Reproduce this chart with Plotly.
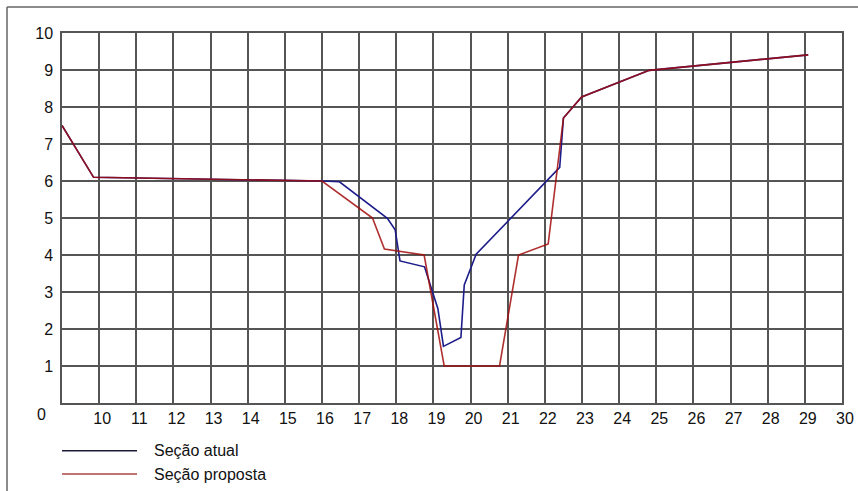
import plotly.graph_objects as go

# Seção atual (current section)
atual_x = [9.0, 9.85, 16.0, 16.47, 17.76, 17.97, 18.1, 18.76, 19.12, 19.27, 19.74, 19.83, 20.15, 22.4, 22.5, 22.99, 24.81, 29.09]
atual_y = [7.5, 6.1, 6.0, 5.98, 4.99, 4.68, 3.84, 3.68, 2.55, 1.53, 1.77, 3.19, 4.02, 6.37, 7.7, 8.27, 8.99, 9.41]

# Seção proposta (proposed section)
prop_x = [9.0, 9.85, 16.0, 17.36, 17.68, 18.75, 19.29, 20.78, 21.29, 22.09, 22.5, 22.99, 24.81, 29.09]
prop_y = [7.5, 6.1, 6.0, 5.0, 4.16, 4.0, 1.0, 1.0, 4.0, 4.3, 7.7, 8.27, 8.99, 9.41]

x_ticks = list(range(9, 31))
x_labels = [""] + [str(v) for v in range(10, 31)]
y_ticks = list(range(1, 11))
y_labels = [str(v) for v in y_ticks]

legend_names = ["Seção atual", "Seção proposta"]

blue = "#1c1c8a"
red = "rgba(162,12,12,0.85)"
grid = "#555555"
font = dict(family="Liberation Sans, Arial, sans-serif", size=16, color="#111111")

fig = go.Figure()
fig.add_trace(go.Scatter(x=atual_x, y=atual_y, mode="lines", line=dict(color=blue, width=1.6),
                         name=legend_names[0], showlegend=False))
fig.add_trace(go.Scatter(x=prop_x, y=prop_y, mode="lines", line=dict(color=red, width=1.6),
                         name=legend_names[1], showlegend=False))

fig.update_layout(
    width=858, height=491,
    margin=dict(l=62, r=16, t=33, b=88),
    paper_bgcolor="white", plot_bgcolor="white",
    font=font,
    xaxis=dict(range=[9, 30], tickvals=x_ticks, ticktext=x_labels, showgrid=True,
               gridcolor=grid, gridwidth=1.5, showline=True, linecolor=grid, linewidth=1.5,
               mirror=True, zeroline=False, ticks="", tickfont=font, ticklabelshift=3,
               automargin=False),
    yaxis=dict(range=[0, 10], tickvals=y_ticks, ticktext=y_labels, showgrid=True,
               gridcolor=grid, gridwidth=1.5, showline=True, linecolor=grid, linewidth=1.5,
               mirror=True, zeroline=False, ticks="", tickfont=font, ticklabelstandoff=4,
               automargin=False),
)

# "0" label at the bottom-left corner
fig.add_annotation(text="0", xref="paper", yref="y", x=0, y=0, xanchor="right", yanchor="top",
                   xshift=-14, yshift=-1, showarrow=False, font=font)

# outer frame (top and left edges)
frame = dict(color="#666666", width=1.5)
fig.add_shape(type="line", xref="paper", yref="paper", x0=-0.0705, x1=1.03, y0=1.0703, y1=1.0703, line=frame)
fig.add_shape(type="line", xref="paper", yref="paper", x0=-0.0705, x1=-0.0705, y0=1.0703, y1=-0.25, line=frame)

# manual legend
legend_colors = ["#1a1a3a", "#b04444"]
legend_y = [-0.129, -0.192]
for name, col, ly in zip(legend_names, legend_colors, legend_y):
    fig.add_shape(type="line", xref="paper", yref="paper", x0=0.0, x1=0.0962, y0=ly, y1=ly,
                  line=dict(color=col, width=1.5))
    fig.add_annotation(text=name, xref="paper", yref="paper", x=0.115, y=ly, xanchor="left",
                       yanchor="middle", showarrow=False, font=font)

fig.write_html("out.html", config={"displayModeBar": False},
               post_script="document.body.style.margin='0';document.body.style.overflow='hidden';")
